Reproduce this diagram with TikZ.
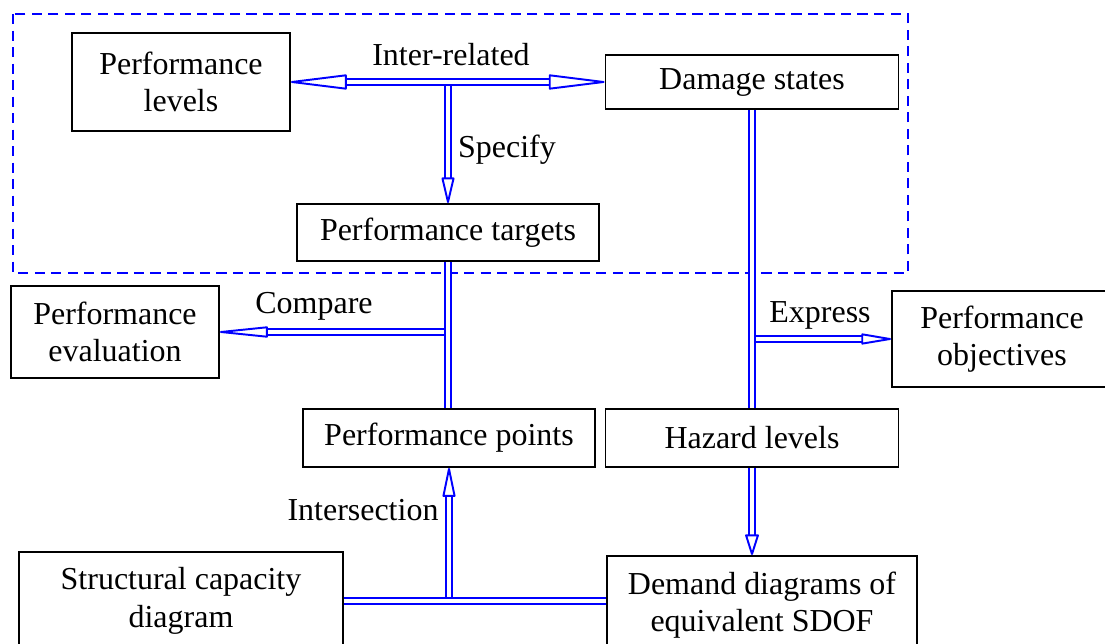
\documentclass[tikz,border=0pt]{standalone}
\usepackage{fontspec}
\setmainfont{Liberation Serif}
\usetikzlibrary{arrows.meta, positioning, calc}
\definecolor{linkblue}{HTML}{0000FF}

\begin{document}
\begin{tikzpicture}[x=0.02cm, y=-0.02cm,
    box/.style={rectangle, draw=black, line width=1.1pt, align=center, inner sep=0pt, font=\fontsize{18.2}{21.3}\selectfont},
    lbl/.style={inner sep=0pt, font=\fontsize{18.2}{21.3}\selectfont},
    link/.style={draw=linkblue, line width=1.1pt, double=white, double distance=1.8pt},
    headed/.style 2 args={-{Triangle[open, round, length=#1, width=#2]}}]
    \clip (0,0) rectangle (1105,644);
    % grouping frame
    \draw[linkblue, line width=1.1pt, dash pattern=on 5.8pt off 3.6pt] (13,14) rectangle (908,273);
    % boxes
    \node[box, minimum width=218*0.02cm, minimum height=98*0.02cm] (plevel) at (181,82) {Performance\\levels};
    \node[box, minimum width=293*0.02cm, minimum height=54*0.02cm] (dstate) at (752,82) {Damage states};
    \node[box, minimum width=302*0.02cm, minimum height=57*0.02cm] (ptarget) at (448,232.5) {Performance targets};
    \node[box, minimum width=208*0.02cm, minimum height=92*0.02cm] (peval) at (115,332) {Performance\\evaluation};
    \node[box, minimum width=220*0.02cm, minimum height=96*0.02cm] (pobj) at (1002,339) {Performance\\objectives};
    \node[box, minimum width=292*0.02cm, minimum height=58*0.02cm] (ppoint) at (449,438) {Performance points};
    \node[box, minimum width=293*0.02cm, minimum height=58*0.02cm] (hazard) at (752,438) {Hazard levels};
    \node[box, minimum width=324*0.02cm, minimum height=98*0.02cm] (scap) at (181,601) {Structural capacity\\diagram};
    \node[box, minimum width=310*0.02cm, minimum height=98*0.02cm] (demand) at (762,605) {Demand diagrams of\\equivalent SDOF};
    % junctions
    \coordinate (jinter) at (plevel.east -| ptarget.north);
    \coordinate (jcomp) at (ptarget.south |- peval.east);
    \coordinate (jexpr) at (dstate.south |- pobj.west);
    \coordinate (jcross) at (ppoint.south |- scap.east);
    % branches first, main lines on top
    \draw[link, headed={0.58cm}{0.26cm}] (jinter) -- (ptarget.north);
    \draw[link, {Triangle[open, round, length=1.26cm, width=0.3cm]}-{Triangle[open, round, length=1.26cm, width=0.3cm]}] (plevel.east) -- (plevel.east -| dstate.west);
    \draw[link, headed={1.14cm}{0.22cm}] (jcomp) -- (peval.east);
    \draw[link] (ptarget.south) -- (ptarget.south |- ppoint.north);
    \draw[link, headed={0.7cm}{0.22cm}] (jexpr) -- (pobj.west);
    \draw[link] (dstate.south) -- (dstate.south |- hazard.north);
    \draw[link, headed={0.46cm}{0.28cm}] (hazard.south) -- (hazard.south |- demand.north);
    \draw[link, headed={0.66cm}{0.26cm}] (jcross) -- (ppoint.south);
    \draw[link] (scap.east) -- (scap.east -| demand.west);
    % labels
    \node[lbl] (tinter) at (451,55) {Inter-related};
    \node[lbl] (tspec) at (507,150) {Specify};
    \node[lbl] (tcomp) at (314,306) {Compare};
    \node[lbl] (texpr) at (820,315) {Express};
    \node[lbl] (tcross) at (363,510) {Intersection};
\end{tikzpicture}
\end{document}
